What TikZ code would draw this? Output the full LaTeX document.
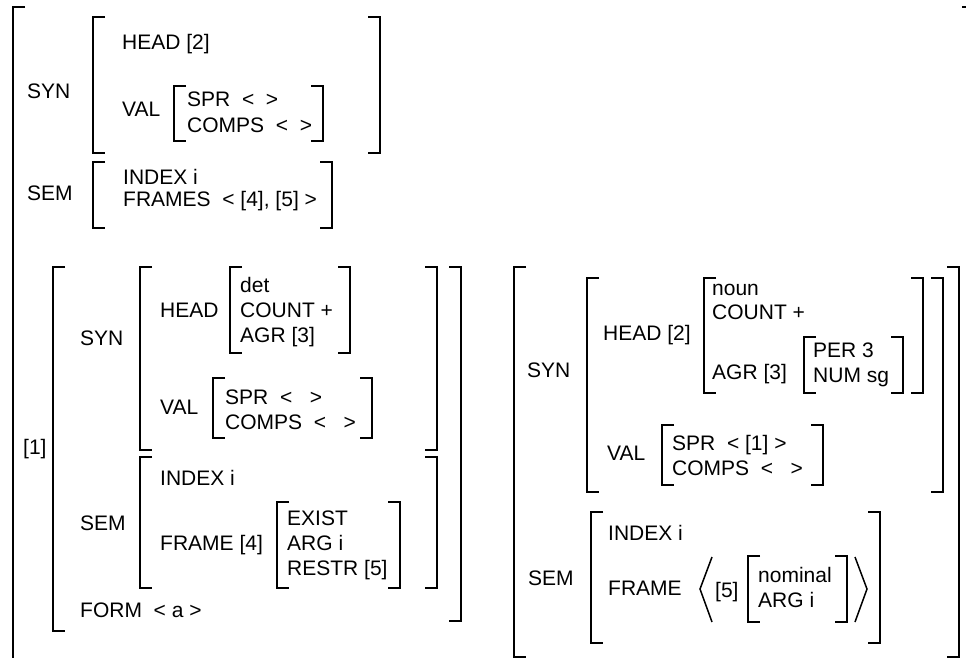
\documentclass[tikz,border=0pt]{standalone}
\usepackage{fontspec}
\setmainfont{Liberation Sans}
\usepackage{tikz}
\newcommand{\lbrk}[3]{\draw[brk] (#1+12,#2) -- (#1,#2) -- (#1,#3) -- (#1+12,#3);}
\newcommand{\rbrk}[3]{\draw[brk] (#1-12,#2) -- (#1,#2) -- (#1,#3) -- (#1-12,#3);}
\newcommand{\fsbox}[4]{\lbrk{#1}{#3}{#4}\rbrk{#2}{#3}{#4}}

\begin{document}
\begin{tikzpicture}[x=1pt, y=-1pt, font=\fontsize{21}{25}\selectfont, lbl/.style={anchor=base west, inner sep=0pt}, brk/.style={line width=1.5pt, line join=miter}]
\useasboundingbox (0,0) rectangle (966,658);
% outer frame
\draw[brk] (25,7) -- (13,7) -- (13,658);
\draw[brk] (962,7) -- (966,7);
% mother: SYN / SEM
\node[lbl] (msyn) at (27,99) {SYN};
\fsbox{93}{380}{17}{153}
\node[lbl] (mhead) at (122,50) {HEAD [2]};
\node[lbl] (mval) at (122,117) {VAL};
\fsbox{174}{323}{86}{141}
\node[lbl] (mspr) at (187,107) {SPR~~<~~>};
\node[lbl] (mcomps) at (187,132) {COMPS~~<~~>};
\node[lbl] (msem) at (27,200) {SEM};
\fsbox{93}{332}{162}{228}
\node[lbl] (mindex) at (123,184) {INDEX i};
\node[lbl] (mframes) at (123,206) {FRAMES~~< [4], [5] >};
% daughter [1]: determiner
\node[lbl] (dtag) at (23,454) {[1]};
\lbrk{53}{267}{631}
\rbrk{461}{267}{621}
\node[lbl] (dsyn) at (80,345) {SYN};
\fsbox{140}{437}{267}{450}
\node[lbl] (dhead) at (160,317) {HEAD};
\fsbox{230}{350}{267}{353}
\node[lbl] (ddet) at (240,292) {det};
\node[lbl] (dcount) at (240,317) {COUNT +};
\node[lbl] (dagr) at (240,342) {AGR [3]};
\node[lbl] (dval) at (160,414) {VAL};
\fsbox{213}{372}{378}{438}
\node[lbl] (dspr) at (225,404) {SPR~~<~~~>};
\node[lbl] (dcomps) at (225,429) {COMPS~~<~~~>};
\node[lbl] (dsem) at (80,530) {SEM};
\fsbox{140}{437}{457}{588}
\node[lbl] (dindex) at (160,485) {INDEX i};
\node[lbl] (dframe) at (160,550) {FRAME [4]};
\fsbox{277}{400}{502}{588}
\node[lbl] (dexist) at (287,525) {EXIST};
\node[lbl] (darg) at (287,550) {ARG i};
\node[lbl] (drestr) at (287,575) {RESTR [5]};
\node[lbl] (dform) at (80,617) {FORM~~< a >};
% daughter: noun
\fsbox{514}{959}{267}{657}
\node[lbl] (nsyn) at (527,377) {SYN};
\fsbox{587}{943}{278}{492}
\node[lbl] (nhead) at (603,340) {HEAD [2]};
\fsbox{704}{923}{278}{393}
\node[lbl] (nnoun) at (712,295) {noun};
\node[lbl] (ncount) at (712,319) {COUNT +};
\node[lbl] (nagr) at (712,379) {AGR [3]};
\fsbox{804}{903}{337}{393}
\node[lbl] (nper) at (813,357) {PER 3};
\node[lbl] (nnum) at (813,382) {NUM sg};
\node[lbl] (nval) at (607,460) {VAL};
\fsbox{662}{823}{425}{485}
\node[lbl] (nspr) at (672,450) {SPR~~< [1] >};
\node[lbl] (ncomps) at (672,475) {COMPS~~<~~~>};
\node[lbl] (nsem) at (528,585) {SEM};
\fsbox{591}{880}{512}{643}
\node[lbl] (nindex) at (608,540) {INDEX i};
\node[lbl] (nframe) at (608,595) {FRAME};
\draw[brk] (712,557) -- (700,589) -- (712,622);
\node[lbl] (ntag) at (715,597) {[5]};
\fsbox{748}{847}{556}{622}
\node[lbl] (nnom) at (758,582) {nominal};
\node[lbl] (narg) at (758,607) {ARG i};
\draw[brk] (855,557) -- (867,589) -- (855,622);
\end{tikzpicture}
\end{document}
